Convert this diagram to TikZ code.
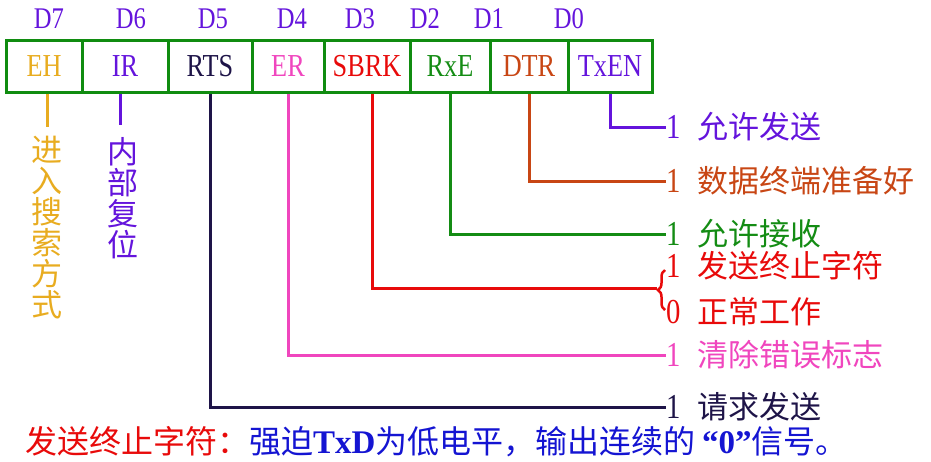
\documentclass[tikz,border=0pt]{standalone}
\usepackage{fontspec}
\setmainfont{Liberation Serif}[FakeStretch=0.82]
\newfontfamily\cjk{Noto Sans CJK SC}
\newfontfamily\notelatin{Liberation Serif}
\usetikzlibrary{decorations.pathreplacing}

\definecolor{boxgreen}{RGB}{16,140,16}
\definecolor{bitviolet}{RGB}{100,20,220}
\definecolor{ehyellow}{RGB}{232,172,32}
\definecolor{rtsnavy}{RGB}{30,20,72}
\definecolor{erpink}{RGB}{240,70,190}
\definecolor{sbrkred}{RGB}{232,10,10}
\definecolor{rxegreen}{RGB}{20,140,20}
\definecolor{dtrbrown}{RGB}{200,70,20}
\definecolor{noteblue}{RGB}{20,20,210}

\newcommand{\bitval}[1]{{\fontsize{35}{35}\selectfont #1}\hspace{17pt}}

\tikzset{
  bitcell/.style={draw=boxgreen, line width=3pt, minimum height=52pt, inner sep=0pt, font=\fontsize{32}{32}\selectfont},
  bitnum/.style={text=bitviolet, inner sep=0pt, font=\fontsize{30}{30}\selectfont},
  lead/.style={line width=3pt},
  meaning/.style={anchor=west, inner sep=0pt, font=\fontsize{31}{31}\selectfont},
  downtext/.style={anchor=north, align=center, inner sep=0pt, font=\fontsize{31}{31}\selectfont\cjk},
}

\begin{document}
\begin{tikzpicture}[x=1pt, y=-1pt]
\useasboundingbox (0,0) rectangle (931,461);

% bit numbers
\node[bitnum] (d7) at (49,19) {D7};
\node[bitnum] (d6) at (131,19) {D6};
\node[bitnum] (d5) at (213,19) {D5};
\node[bitnum] (d4) at (292,19) {D4};
\node[bitnum] (d3) at (360,19) {D3};
\node[bitnum] (d2) at (425,19) {D2};
\node[bitnum] (d1) at (489,19) {D1};
\node[bitnum] (d0) at (569,19) {D0};

% register cells
\node[bitcell, minimum width=76pt, text=ehyellow] (eh) at (44,66) {EH};
\node[bitcell, minimum width=86pt, text=bitviolet] (ir) at (125,66) {IR};
\node[bitcell, minimum width=84pt, text=rtsnavy] (rts) at (210,66) {RTS};
\node[bitcell, minimum width=72pt, text=erpink] (er) at (288,66) {ER};
\node[bitcell, minimum width=86pt, text=sbrkred] (sbrk) at (367,66) {SBRK};
\node[bitcell, minimum width=80pt, text=rxegreen] (rxe) at (450,66) {RxE};
\node[bitcell, minimum width=78pt, text=dtrbrown] (dtr) at (529,66) {DTR};
\node[bitcell, minimum width=84pt, text=bitviolet] (txen) at (610,66) {TxEN};

% vertical texts
\node[downtext, text=ehyellow] (ehinfo) at (47,136) {进\\入\\搜\\索\\方\\式};
\node[downtext, text=bitviolet] (irinfo) at (123,137) {内\\部\\复\\位};
\draw[lead, ehyellow] (eh.south -| ehinfo.north) -- ([yshift=9pt]ehinfo.north);
\draw[lead, bitviolet] (ir.south -| 120,0) -- (120,125);

% meanings on the right
\node[meaning, text=bitviolet] (txeninfo) at (666,127) {\bitval{1}{\cjk 允许发送}};
\node[meaning, text=dtrbrown] (dtrinfo) at (666,181) {\bitval{1}{\cjk 数据终端准备好}};
\node[meaning, text=rxegreen] (rxeinfo) at (666,234) {\bitval{1}{\cjk 允许接收}};
\node[meaning, text=sbrkred] (sbrkone) at (666,266) {\bitval{1}{\cjk 发送终止字符}};
\node[meaning, text=sbrkred] (sbrkzero) at (666,312) {\bitval{0}{\cjk 正常工作}};
\node[meaning, text=erpink] (erinfo) at (666,355) {\bitval{1}{\cjk 清除错误标志}};
\node[meaning, text=rtsnavy] (rtsinfo) at (666,407) {\bitval{1}{\cjk 请求发送}};

\coordinate (sbrktip) at (657,288);
\coordinate (bracetop) at (665,270);
\coordinate (bracebot) at (665,310);

\draw[lead, bitviolet] (txen.south) |- (txeninfo.west);
\draw[lead, dtrbrown] (dtr.south) |- (dtrinfo.west);
\draw[lead, rxegreen] (rxe.south) |- (rxeinfo.west);
\draw[lead, sbrkred] ([xshift=5pt]sbrk.south) |- (sbrktip);
\draw[line width=2.5pt, sbrkred, decorate, decoration={brace, amplitude=7pt}] (bracebot) -- (bracetop);
\draw[lead, erpink] (er.south) |- (erinfo.west);
\draw[lead, rtsnavy] (rts.south) |- (rtsinfo.west);

% note
\node[anchor=west, inner sep=0pt, font=\fontsize{32}{32}\selectfont] (note) at (25,442)
  {\textcolor{sbrkred}{\cjk 发送终止字符：}\textcolor{noteblue}{{\cjk 强迫}{\notelatin\fontsize{33}{33}\selectfont\bfseries TxD}{\cjk 为低电平，输出连续的} {\notelatin\fontsize{33}{33}\selectfont\bfseries “0”}{\cjk 信号。}}};
\end{tikzpicture}
\end{document}
